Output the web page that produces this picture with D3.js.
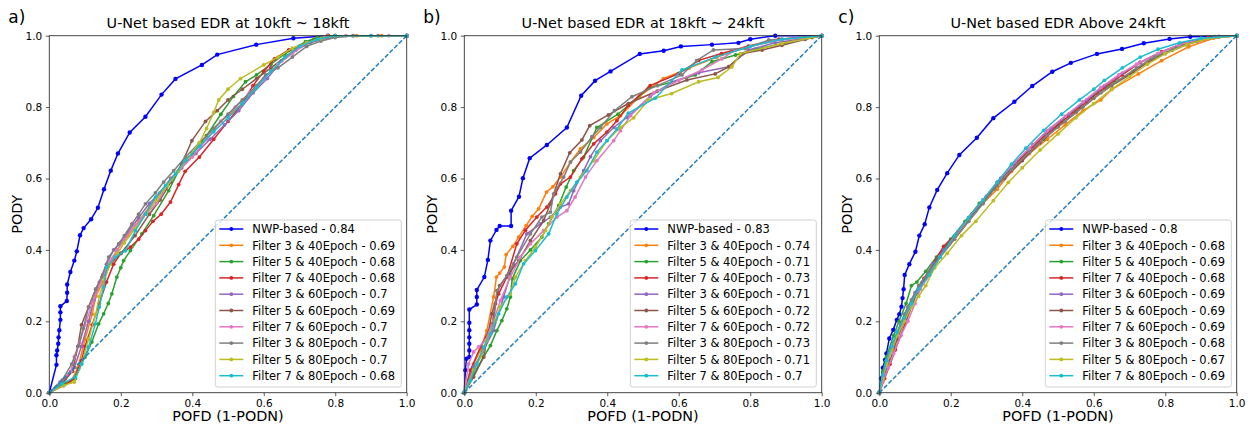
<!DOCTYPE html>
<html>
<head>
<meta charset="utf-8">
<script src="https://cdn.jsdelivr.net/npm/d3@7"></script>
<style>
  body { margin: 0; background: #fff; }
  text { font-family: "DejaVu Sans", sans-serif; fill: #000; }
</style>
</head>
<body>
<div class="chart"></div>
<script>
// ---- data ----
var panelLetters = ["a)", "b)", "c)"];
var panelTitles = [
  "U-Net based EDR at 10kft ~ 18kft",
  "U-Net based EDR at 18kft ~ 24kft",
  "U-Net based EDR Above 24kft"
];
var seriesNames = [
  "NWP-based",
  "Filter 3 & 40Epoch", "Filter 5 & 40Epoch", "Filter 7 & 40Epoch",
  "Filter 3 & 60Epoch", "Filter 5 & 60Epoch", "Filter 7 & 60Epoch",
  "Filter 3 & 80Epoch", "Filter 5 & 80Epoch", "Filter 7 & 80Epoch"
];
var aucA = [0.84, 0.69, 0.68, 0.68, 0.7, 0.69, 0.7, 0.7, 0.7, 0.68];
var aucB = [0.83, 0.74, 0.71, 0.73, 0.71, 0.72, 0.72, 0.73, 0.71, 0.7];
var aucC = [0.8, 0.68, 0.69, 0.68, 0.69, 0.69, 0.69, 0.68, 0.67, 0.69];
var tickValues = [0, 0.2, 0.4, 0.6, 0.8, 1.0];
var diagonal = [[0, 0], [1, 1]];

// panel a) 10kft ~ 18kft  ([POFD, PODY] pairs)
var a_nwp = [[0,0],[0.02,0.078],[0.02,0.105],[0.022,0.118],[0.025,0.137],[0.026,0.155],[0.028,0.175],[0.031,0.204],[0.031,0.225],[0.031,0.242],[0.049,0.257],[0.05,0.28],[0.05,0.303],[0.059,0.338],[0.07,0.37],[0.077,0.396],[0.086,0.441],[0.096,0.461],[0.117,0.486],[0.136,0.518],[0.153,0.57],[0.172,0.622],[0.192,0.67],[0.225,0.729],[0.269,0.773],[0.314,0.835],[0.353,0.879],[0.427,0.918],[0.47,0.947],[0.579,0.975],[0.683,0.993],[0.78,1],[1,1]];
var a_f3e40 = [[0,0],[0.03,0.02],[0.06,0.03],[0.08,0.07],[0.1,0.15],[0.12,0.22],[0.13,0.27],[0.15,0.31],[0.17,0.36],[0.19,0.4],[0.22,0.44],[0.25,0.48],[0.28,0.52],[0.31,0.56],[0.34,0.6],[0.37,0.63],[0.4,0.67],[0.44,0.72],[0.48,0.76],[0.525,0.797],[0.556,0.827],[0.58,0.86],[0.62,0.9],[0.66,0.94],[0.7,0.97],[0.74,0.99],[0.78,1],[0.86,1],[0.93,1],[1,1]];
var a_f5e40 = [[0,0],[0.045,0.025],[0.073,0.04],[0.082,0.067],[0.1,0.1],[0.119,0.142],[0.138,0.193],[0.152,0.221],[0.165,0.25],[0.175,0.277],[0.189,0.324],[0.2,0.35],[0.208,0.37],[0.227,0.398],[0.259,0.445],[0.292,0.496],[0.334,0.566],[0.362,0.622],[0.4,0.67],[0.44,0.72],[0.48,0.78],[0.515,0.83],[0.549,0.871],[0.58,0.89],[0.62,0.92],[0.66,0.95],[0.717,0.983],[0.75,0.995],[0.8,1],[1,1]];
var a_f7e40 = [[0,0],[0.04,0.02],[0.07,0.04],[0.09,0.09],[0.1,0.13],[0.12,0.19],[0.14,0.25],[0.16,0.31],[0.18,0.36],[0.2,0.39],[0.213,0.398],[0.227,0.408],[0.25,0.43],[0.269,0.454],[0.29,0.48],[0.313,0.5],[0.339,0.534],[0.362,0.583],[0.38,0.62],[0.42,0.66],[0.46,0.71],[0.5,0.76],[0.54,0.81],[0.57,0.86],[0.6,0.9],[0.63,0.935],[0.67,0.96],[0.72,0.98],[0.76,0.99],[0.8,1],[0.9,1],[1,1]];
var a_f3e60 = [[0,0],[0.045,0.04],[0.07,0.07],[0.09,0.13],[0.11,0.2],[0.125,0.26],[0.14,0.31],[0.16,0.36],[0.18,0.4],[0.2,0.42],[0.22,0.45],[0.25,0.49],[0.28,0.53],[0.31,0.56],[0.34,0.6],[0.37,0.63],[0.41,0.67],[0.45,0.71],[0.49,0.75],[0.53,0.79],[0.57,0.84],[0.61,0.88],[0.65,0.93],[0.69,0.96],[0.73,0.98],[0.78,0.995],[0.85,1],[1,1]];
var a_f5e60 = [[0,0],[0.04,0.03],[0.065,0.06],[0.08,0.13],[0.09,0.19],[0.11,0.24],[0.13,0.29],[0.15,0.33],[0.17,0.36],[0.2,0.39],[0.24,0.44],[0.28,0.5],[0.31,0.54],[0.34,0.59],[0.37,0.64],[0.399,0.706],[0.437,0.76],[0.47,0.79],[0.5,0.82],[0.54,0.85],[0.58,0.88],[0.62,0.91],[0.66,0.94],[0.7,0.97],[0.75,0.99],[0.8,1],[1,1]];
var a_f7e60 = [[0,0],[0.03,0.03],[0.06,0.06],[0.07,0.1],[0.085,0.14],[0.1,0.19],[0.12,0.25],[0.14,0.3],[0.155,0.34],[0.17,0.37],[0.19,0.4],[0.21,0.43],[0.24,0.47],[0.27,0.5],[0.3,0.53],[0.33,0.58],[0.36,0.62],[0.4,0.66],[0.44,0.71],[0.48,0.76],[0.52,0.8],[0.56,0.84],[0.6,0.88],[0.64,0.92],[0.68,0.95],[0.72,0.98],[0.77,0.995],[0.83,1],[0.95,1],[1,1]];
var a_f3e80 = [[0,0],[0.036,0.035],[0.063,0.081],[0.082,0.132],[0.095,0.18],[0.11,0.24],[0.13,0.29],[0.147,0.324],[0.166,0.38],[0.194,0.417],[0.21,0.44],[0.231,0.473],[0.25,0.5],[0.269,0.529],[0.297,0.56],[0.32,0.59],[0.348,0.622],[0.381,0.66],[0.42,0.7],[0.46,0.74],[0.5,0.78],[0.54,0.82],[0.58,0.86],[0.605,0.89],[0.64,0.91],[0.68,0.94],[0.72,0.97],[0.76,0.985],[0.8,0.995],[0.85,1],[0.92,1],[1,1]];
var a_f5e80 = [[0,0],[0.04,0.02],[0.07,0.03],[0.09,0.08],[0.11,0.15],[0.13,0.22],[0.14,0.27],[0.155,0.32],[0.17,0.36],[0.19,0.39],[0.21,0.42],[0.24,0.46],[0.27,0.5],[0.3,0.54],[0.33,0.58],[0.36,0.62],[0.39,0.66],[0.42,0.7],[0.44,0.74],[0.46,0.785],[0.474,0.82],[0.5,0.85],[0.535,0.88],[0.6,0.918],[0.64,0.94],[0.68,0.965],[0.72,0.98],[0.76,0.992],[0.8,1],[1,1]];
var a_f7e80 = [[0,0],[0.035,0.025],[0.073,0.044],[0.091,0.081],[0.11,0.128],[0.129,0.193],[0.14,0.24],[0.152,0.296],[0.161,0.352],[0.185,0.38],[0.213,0.398],[0.241,0.454],[0.269,0.5],[0.297,0.548],[0.325,0.58],[0.353,0.613],[0.38,0.65],[0.42,0.69],[0.46,0.731],[0.5,0.77],[0.54,0.81],[0.58,0.855],[0.62,0.9],[0.66,0.94],[0.7,0.97],[0.75,0.99],[0.8,1],[0.9,1],[1,1]];

// panel b) 18kft ~ 24kft
var b_nwp = [[0,0],[0.003,0.063],[0.006,0.095],[0.014,0.1],[0.014,0.118],[0.014,0.137],[0.014,0.155],[0.014,0.175],[0.014,0.196],[0.014,0.233],[0.035,0.247],[0.035,0.268],[0.035,0.288],[0.056,0.324],[0.066,0.372],[0.073,0.426],[0.09,0.456],[0.099,0.467],[0.131,0.467],[0.131,0.51],[0.153,0.549],[0.164,0.601],[0.183,0.657],[0.231,0.694],[0.287,0.743],[0.327,0.832],[0.366,0.874],[0.409,0.9],[0.491,0.949],[0.558,0.958],[0.606,0.97],[0.693,0.975],[0.767,0.98],[0.8,0.99],[0.87,1],[1,1]];
var b_f3e40 = [[0,0],[0.026,0.081],[0.045,0.118],[0.063,0.174],[0.082,0.268],[0.09,0.324],[0.099,0.335],[0.112,0.352],[0.117,0.387],[0.136,0.41],[0.152,0.436],[0.173,0.468],[0.19,0.494],[0.208,0.515],[0.23,0.562],[0.248,0.577],[0.269,0.604],[0.297,0.646],[0.325,0.683],[0.362,0.715],[0.399,0.753],[0.437,0.776],[0.49,0.83],[0.557,0.88],[0.63,0.91],[0.707,0.94],[0.795,0.969],[0.889,0.99],[1,1]];
var b_f5e40 = [[0,0],[0.026,0.053],[0.054,0.1],[0.073,0.132],[0.091,0.174],[0.105,0.202],[0.119,0.235],[0.129,0.268],[0.134,0.319],[0.157,0.37],[0.185,0.4],[0.217,0.436],[0.236,0.473],[0.264,0.524],[0.285,0.576],[0.306,0.622],[0.334,0.66],[0.371,0.743],[0.43,0.78],[0.515,0.853],[0.58,0.87],[0.646,0.89],[0.693,0.927],[0.759,0.946],[0.815,0.962],[0.9,0.98],[0.973,0.995],[1,1]];
var b_f7e40 = [[0,0],[0.017,0.063],[0.045,0.127],[0.078,0.193],[0.087,0.249],[0.096,0.277],[0.119,0.324],[0.147,0.417],[0.171,0.455],[0.203,0.492],[0.231,0.52],[0.255,0.557],[0.269,0.585],[0.297,0.604],[0.329,0.655],[0.362,0.697],[0.399,0.73],[0.427,0.762],[0.459,0.805],[0.52,0.86],[0.6,0.894],[0.656,0.931],[0.72,0.95],[0.795,0.971],[0.88,0.99],[1,1]];
var b_f3e60 = [[0,0],[0.026,0.072],[0.054,0.118],[0.082,0.174],[0.11,0.268],[0.138,0.361],[0.175,0.445],[0.213,0.473],[0.241,0.492],[0.269,0.52],[0.292,0.529],[0.306,0.566],[0.334,0.622],[0.353,0.661],[0.381,0.706],[0.418,0.743],[0.455,0.771],[0.52,0.83],[0.58,0.87],[0.656,0.896],[0.74,0.913],[0.795,0.96],[0.87,0.98],[1,1]];
var b_f5e60 = [[0,0],[0.026,0.044],[0.054,0.1],[0.077,0.221],[0.099,0.3],[0.124,0.333],[0.152,0.37],[0.185,0.426],[0.222,0.482],[0.241,0.529],[0.269,0.613],[0.295,0.672],[0.329,0.708],[0.351,0.748],[0.403,0.778],[0.459,0.81],[0.54,0.845],[0.623,0.876],[0.702,0.893],[0.74,0.913],[0.78,0.95],[0.833,0.96],[0.889,0.973],[0.954,0.99],[1,1]];
var b_f7e60 = [[0,0],[0.012,0.081],[0.026,0.114],[0.04,0.128],[0.059,0.146],[0.082,0.202],[0.101,0.258],[0.129,0.324],[0.157,0.38],[0.185,0.417],[0.222,0.454],[0.259,0.492],[0.287,0.51],[0.31,0.548],[0.339,0.604],[0.371,0.65],[0.418,0.706],[0.437,0.734],[0.465,0.776],[0.53,0.84],[0.6,0.875],[0.665,0.904],[0.72,0.935],[0.759,0.96],[0.86,0.985],[1,1]];
var b_f3e80 = [[0,0],[0.026,0.063],[0.054,0.118],[0.082,0.193],[0.091,0.286],[0.119,0.328],[0.147,0.38],[0.185,0.445],[0.217,0.492],[0.241,0.506],[0.25,0.557],[0.278,0.604],[0.297,0.646],[0.325,0.674],[0.357,0.717],[0.381,0.743],[0.42,0.79],[0.469,0.829],[0.54,0.86],[0.609,0.89],[0.65,0.93],[0.697,0.96],[0.786,0.964],[0.852,0.988],[1,1]];
var b_f5e80 = [[0,0],[0.026,0.063],[0.045,0.1],[0.063,0.146],[0.087,0.202],[0.1,0.24],[0.129,0.277],[0.143,0.324],[0.171,0.37],[0.199,0.408],[0.227,0.454],[0.245,0.492],[0.269,0.529],[0.297,0.566],[0.325,0.604],[0.362,0.65],[0.399,0.706],[0.437,0.743],[0.474,0.77],[0.515,0.82],[0.58,0.838],[0.656,0.871],[0.71,0.883],[0.749,0.913],[0.773,0.95],[0.889,0.978],[1,1]];
var b_f7e80 = [[0,0],[0.017,0.034],[0.035,0.081],[0.054,0.128],[0.073,0.165],[0.096,0.221],[0.119,0.268],[0.143,0.305],[0.166,0.361],[0.199,0.398],[0.236,0.445],[0.259,0.501],[0.287,0.548],[0.315,0.59],[0.343,0.622],[0.371,0.674],[0.399,0.706],[0.427,0.739],[0.459,0.783],[0.534,0.825],[0.609,0.904],[0.702,0.94],[0.8,0.97],[0.889,0.99],[1,1]];

// panel c) above 24kft
var c_nwp = [[0,0],[0.005,0.04],[0.01,0.07],[0.016,0.092],[0.02,0.11],[0.028,0.152],[0.039,0.176],[0.049,0.204],[0.056,0.22],[0.062,0.241],[0.065,0.265],[0.068,0.29],[0.071,0.33],[0.084,0.36],[0.101,0.395],[0.112,0.44],[0.127,0.472],[0.14,0.519],[0.162,0.568],[0.19,0.615],[0.224,0.666],[0.273,0.714],[0.319,0.769],[0.378,0.815],[0.428,0.859],[0.484,0.899],[0.536,0.924],[0.609,0.949],[0.679,0.963],[0.74,0.979],[0.812,0.991],[0.87,0.997],[1,1]];
var c_f3e40 = [[0,0],[0.01,0.04],[0.02,0.08],[0.035,0.12],[0.05,0.16],[0.07,0.2],[0.09,0.25],[0.11,0.29],[0.14,0.33],[0.17,0.38],[0.21,0.43],[0.25,0.48],[0.29,0.53],[0.33,0.57],[0.37,0.62],[0.42,0.67],[0.47,0.71],[0.52,0.75],[0.57,0.79],[0.62,0.82],[0.651,0.85],[0.725,0.893],[0.79,0.93],[0.866,0.969],[0.935,0.993],[1,1]];
var c_f5e40 = [[0,0],[0.01,0.06],[0.02,0.1],[0.04,0.16],[0.055,0.2],[0.075,0.25],[0.09,0.3],[0.105,0.31],[0.13,0.34],[0.16,0.38],[0.2,0.43],[0.24,0.48],[0.28,0.53],[0.32,0.57],[0.36,0.62],[0.41,0.67],[0.46,0.71],[0.51,0.76],[0.56,0.8],[0.61,0.84],[0.66,0.87],[0.71,0.9],[0.76,0.935],[0.82,0.96],[0.88,0.985],[0.94,0.997],[1,1]];
var c_f7e40 = [[0,0],[0.015,0.04],[0.03,0.08],[0.045,0.12],[0.06,0.16],[0.075,0.2],[0.09,0.24],[0.105,0.28],[0.125,0.32],[0.15,0.36],[0.18,0.41],[0.22,0.45],[0.26,0.5],[0.3,0.55],[0.34,0.6],[0.38,0.64],[0.43,0.69],[0.48,0.735],[0.53,0.775],[0.58,0.815],[0.63,0.855],[0.68,0.89],[0.73,0.925],[0.79,0.955],[0.85,0.978],[0.92,0.995],[1,1]];
var c_f3e60 = [[0,0],[0.01,0.05],[0.025,0.1],[0.04,0.14],[0.06,0.19],[0.08,0.24],[0.1,0.28],[0.12,0.31],[0.15,0.36],[0.18,0.4],[0.22,0.45],[0.26,0.5],[0.3,0.55],[0.34,0.6],[0.38,0.645],[0.43,0.695],[0.48,0.74],[0.53,0.78],[0.58,0.82],[0.63,0.86],[0.68,0.895],[0.73,0.925],[0.78,0.95],[0.84,0.975],[0.9,0.99],[0.95,0.998],[1,1]];
var c_f5e60 = [[0,0],[0.01,0.04],[0.03,0.09],[0.05,0.15],[0.07,0.2],[0.09,0.25],[0.11,0.29],[0.13,0.32],[0.16,0.37],[0.19,0.41],[0.23,0.46],[0.27,0.51],[0.31,0.56],[0.35,0.6],[0.4,0.65],[0.45,0.7],[0.5,0.745],[0.55,0.785],[0.6,0.825],[0.65,0.86],[0.7,0.89],[0.75,0.925],[0.8,0.95],[0.86,0.975],[0.92,0.992],[1,1]];
var c_f7e60 = [[0,0],[0.01,0.03],[0.025,0.07],[0.04,0.11],[0.06,0.16],[0.08,0.2],[0.1,0.25],[0.115,0.29],[0.14,0.33],[0.17,0.38],[0.21,0.43],[0.25,0.49],[0.29,0.54],[0.33,0.59],[0.37,0.635],[0.42,0.685],[0.47,0.735],[0.52,0.775],[0.57,0.815],[0.62,0.855],[0.67,0.89],[0.72,0.92],[0.78,0.95],[0.84,0.975],[0.9,0.99],[1,1]];
var c_f3e80 = [[0,0],[0.01,0.05],[0.02,0.09],[0.035,0.13],[0.05,0.17],[0.07,0.22],[0.09,0.26],[0.11,0.3],[0.14,0.34],[0.17,0.38],[0.21,0.43],[0.25,0.48],[0.29,0.53],[0.33,0.58],[0.37,0.625],[0.42,0.675],[0.47,0.72],[0.52,0.76],[0.57,0.8],[0.62,0.84],[0.67,0.875],[0.72,0.91],[0.77,0.94],[0.83,0.965],[0.89,0.985],[0.95,0.997],[1,1]];
var c_f5e80 = [[0,0],[0.01,0.04],[0.02,0.08],[0.035,0.12],[0.05,0.16],[0.07,0.2],[0.09,0.24],[0.11,0.27],[0.13,0.3],[0.155,0.35],[0.19,0.39],[0.23,0.44],[0.27,0.48],[0.319,0.538],[0.361,0.589],[0.4,0.63],[0.45,0.68],[0.5,0.725],[0.55,0.77],[0.6,0.81],[0.65,0.85],[0.7,0.885],[0.75,0.92],[0.8,0.95],[0.86,0.975],[0.92,0.992],[1,1]];
var c_f7e80 = [[0,0],[0.01,0.05],[0.02,0.09],[0.035,0.13],[0.05,0.17],[0.07,0.21],[0.09,0.25],[0.11,0.29],[0.14,0.33],[0.17,0.38],[0.21,0.44],[0.25,0.49],[0.29,0.54],[0.33,0.59],[0.37,0.64],[0.41,0.685],[0.46,0.735],[0.51,0.78],[0.56,0.82],[0.6,0.85],[0.63,0.875],[0.68,0.91],[0.73,0.94],[0.78,0.962],[0.84,0.98],[0.9,0.993],[1,1]];

var panelCurves = [
  [a_nwp, a_f3e40, a_f5e40, a_f7e40, a_f3e60, a_f5e60, a_f7e60, a_f3e80, a_f5e80, a_f7e80],
  [b_nwp, b_f3e40, b_f5e40, b_f7e40, b_f3e60, b_f5e60, b_f7e60, b_f3e80, b_f5e80, b_f7e80],
  [c_nwp, c_f3e40, c_f5e40, c_f7e40, c_f3e60, c_f5e60, c_f7e60, c_f3e80, c_f5e80, c_f7e80]
];
var panelAuc = [aucA, aucB, aucC];

// ---- styling / layout ----
var seriesColors = ["#0000ff", "#ff7f0e", "#2ca02c", "#d62728", "#9467bd",
  "#8c564b", "#e377c2", "#7f7f7f", "#bcbd22", "#17becf"];
var svgWidth = 1252, svgHeight = 429;
var panelLeft = [49.3, 464.3, 879.3];
var panelTop = 35.7;
var plotW = 357.4, plotH = 357;

var svg = d3.select(".chart").append("svg")
  .attr("width", svgWidth)
  .attr("height", svgHeight);

var xScale = d3.scaleLinear().domain([0, 1]).range([0, plotW]);
var yScale = d3.scaleLinear().domain([0, 1]).range([plotH, 0]);
var line = d3.line()
  .x(function (d) { return xScale(d[0]); })
  .y(function (d) { return yScale(d[1]); });

panelCurves.forEach(function (curves, p) {
  var g = svg.append("g")
    .attr("transform", "translate(" + panelLeft[p] + "," + panelTop + ")");

  // panel letter
  svg.append("text")
    .attr("x", panelLeft[p] - 41)
    .attr("y", 23)
    .style("font-size", "17px")
    .text(panelLetters[p]);

  // title
  g.append("text")
    .attr("x", plotW / 2)
    .attr("y", -7.5)
    .attr("text-anchor", "middle")
    .style("font-size", "14.4px")
    .text(panelTitles[p]);

  // curves
  var marks = g.append("g");
  curves.forEach(function (pts, i) {
    marks.append("path")
      .datum(pts)
      .attr("d", line)
      .attr("fill", "none")
      .attr("stroke", seriesColors[i])
      .attr("stroke-width", 1.5);
    marks.selectAll(".m" + i)
      .data(pts)
      .enter()
      .append("circle")
      .attr("class", "m" + i)
      .attr("cx", function (d) { return xScale(d[0]); })
      .attr("cy", function (d) { return yScale(d[1]); })
      .attr("r", i === 0 ? 2.2 : 1.9)
      .attr("fill", seriesColors[i]);
  });

  // chance diagonal
  g.append("path")
    .datum(diagonal)
    .attr("d", line)
    .attr("fill", "none")
    .attr("stroke", "#1f7fc0")
    .attr("stroke-width", 1.5)
    .attr("stroke-dasharray", "4.5,2");

  // axes
  var xAxis = d3.axisBottom(xScale).tickValues(tickValues)
    .tickFormat(d3.format(".1f")).tickSize(3.5).tickPadding(3);
  var yAxis = d3.axisLeft(yScale).tickValues(tickValues)
    .tickFormat(d3.format(".1f")).tickSize(3.5).tickPadding(3.5);
  var gx = g.append("g").attr("transform", "translate(0," + plotH + ")").call(xAxis);
  var gy = g.append("g").call(yAxis);
  [gx, gy].forEach(function (ax) {
    ax.select(".domain").remove();
    ax.selectAll("line").attr("stroke", "#333").attr("stroke-width", 0.8);
    ax.selectAll("text")
      .style("font-family", "'DejaVu Sans', sans-serif")
      .style("font-size", "10.5px")
      .attr("fill", "#000");
  });

  // frame
  g.append("rect")
    .attr("width", plotW)
    .attr("height", plotH)
    .attr("fill", "none")
    .attr("stroke", "#333")
    .attr("stroke-width", 0.9);

  // axis labels
  g.append("text")
    .attr("x", plotW / 2)
    .attr("y", plotH + 28.5)
    .attr("text-anchor", "middle")
    .style("font-size", "14.4px")
    .text("POFD (1-PODN)");
  g.append("text")
    .attr("transform", "rotate(-90)")
    .attr("x", -plotH / 2)
    .attr("y", -27.3)
    .attr("text-anchor", "middle")
    .style("font-size", "14.4px")
    .text("PODY");

  // legend
  var lg = g.append("g").attr("transform", "translate(166,184.3)");
  lg.append("rect")
    .attr("width", 186)
    .attr("height", 167)
    .attr("rx", 2.5)
    .attr("fill", "#fff")
    .attr("fill-opacity", 0.8)
    .attr("stroke", "#ccc")
    .attr("stroke-width", 0.9);
  seriesNames.forEach(function (name, i) {
    var yy = 9 + i * 16.3;
    lg.append("line")
      .attr("x1", 4).attr("x2", 28)
      .attr("y1", yy).attr("y2", yy)
      .attr("stroke", seriesColors[i])
      .attr("stroke-width", 1.5);
    lg.append("circle")
      .attr("cx", 16).attr("cy", yy)
      .attr("r", 1.9)
      .attr("fill", seriesColors[i]);
    lg.append("text")
      .attr("x", 37)
      .attr("y", yy + 4.2)
      .style("font-size", "11.5px")
      .text(name + " - " + panelAuc[p][i]);
  });
});
</script>
</body>
</html>
